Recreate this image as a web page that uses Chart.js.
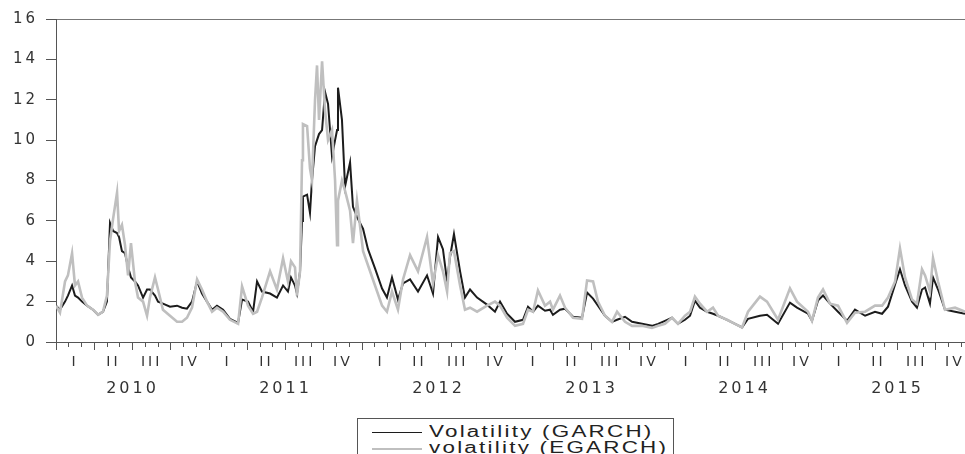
<!DOCTYPE html>
<html>
<head>
<meta charset="utf-8">
<script src="https://cdn.jsdelivr.net/npm/chart.js@4.4.1/dist/chart.umd.min.js"></script>
<style>
  html, body { margin: 0; padding: 0; background: #fff; overflow: hidden; }
  #wrap { position: relative; width: 965px; height: 454px; }
  #legend {
    position: absolute; left: 357px; top: 418px; width: 315px; height: 46px;
    border: 1px solid #555; background: #fff;
    font-family: "Liberation Sans", Arial, sans-serif; font-size: 16px; color: #222;
  }
  .row { position: absolute; left: 0; height: 17px; width: 100%; }
  .row .swatch { position: absolute; left: 14px; top: 8px; width: 50px; height: 0; }
  .row .txt {
    position: absolute; left: 71px; top: -1px; white-space: nowrap; line-height: 17px;
    letter-spacing: 1.6px; transform: scaleX(1.4); transform-origin: left center;
  }
</style>
</head>
<body>
<div id="wrap">
  <canvas id="volChart"></canvas>
  <div id="legend">
    <div class="row" style="top:5px"><div class="swatch" style="border-top:1.8px solid #1c1c1c"></div><span class="txt">Volatility (GARCH)</span></div>
    <div class="row" style="top:21px"><div class="swatch" style="border-top:2px solid #bfbfbf"></div><span class="txt">volatility (EGARCH)</span></div>
  </div>
</div>
<script>
// dates as decimal years
const dates = [
  2010.000, 2010.026, 2010.059, 2010.078, 2010.105, 2010.124, 2010.144, 2010.170, 2010.203, 2010.242,
  2010.275, 2010.307, 2010.333, 2010.353, 2010.373, 2010.399, 2010.412, 2010.431, 2010.451, 2010.471,
  2010.490, 2010.516, 2010.536, 2010.569, 2010.595, 2010.614, 2010.647, 2010.667, 2010.699, 2010.745,
  2010.791, 2010.824, 2010.856, 2010.889, 2010.922, 2010.954, 2010.987, 2011.020, 2011.052, 2011.092,
  2011.137, 2011.190, 2011.216, 2011.255, 2011.288, 2011.314, 2011.346, 2011.399, 2011.444, 2011.484,
  2011.516, 2011.536, 2011.562, 2011.575, 2011.595, 2011.608, 2011.614, 2011.641, 2011.660, 2011.673,
  2011.693, 2011.706, 2011.719, 2011.739, 2011.758, 2011.778, 2011.804, 2011.824, 2011.837, 2011.843,
  2011.869, 2011.889, 2011.922, 2011.941, 2011.967, 2012.007, 2012.039, 2012.085, 2012.131, 2012.163,
  2012.196, 2012.235, 2012.268, 2012.314, 2012.366, 2012.425, 2012.464, 2012.497, 2012.529, 2012.556,
  2012.575, 2012.601, 2012.641, 2012.673, 2012.706, 2012.752, 2012.817, 2012.869, 2012.902, 2012.948,
  2013.000, 2013.052, 2013.085, 2013.118, 2013.150, 2013.196, 2013.229, 2013.248, 2013.294, 2013.327,
  2013.379, 2013.438, 2013.471, 2013.510, 2013.542, 2013.588, 2013.634, 2013.667, 2013.719, 2013.765,
  2013.830, 2013.895, 2013.935, 2013.980, 2014.026, 2014.065, 2014.111, 2014.144, 2014.176, 2014.209,
  2014.255, 2014.294, 2014.327, 2014.386, 2014.438, 2014.484, 2014.523, 2014.601, 2014.647, 2014.719,
  2014.797, 2014.843, 2014.915, 2014.941, 2014.980, 2015.013, 2015.059, 2015.111, 2015.170, 2015.222,
  2015.288, 2015.353, 2015.399, 2015.438, 2015.484, 2015.516, 2015.549, 2015.595, 2015.627, 2015.660,
  2015.680, 2015.712, 2015.732, 2015.765, 2015.810, 2015.876, 2015.941, 2015.990
];

const garch = [
  1.8, 1.6, 2.0, 2.3, 2.8, 2.3, 2.2, 2.0, 1.8, 1.6,
  1.35, 1.5, 2.0, 5.9, 5.5, 5.4, 5.2, 4.5, 4.4, 3.7,
  3.2, 3.0, 2.8, 2.2, 2.6, 2.6, 2.3, 2.0, 1.9, 1.75,
  1.8, 1.7, 1.65, 2.0, 3.0, 2.4, 2.0, 1.6, 1.8, 1.6,
  1.15, 0.95, 2.1, 2.0, 1.5, 3.0, 2.5, 2.4, 2.2, 2.8,
  2.5, 3.2, 2.8, 2.4, 3.5, 6.0, 7.2, 7.3, 6.4, 8.0,
  9.7, 10.0, 10.3, 10.5, 12.4, 11.8, 9.2, 10.0, 10.5, 12.6,
  11.0, 7.7, 8.9, 6.7, 6.2, 5.6, 4.6, 3.65, 2.65, 2.2,
  3.2, 2.1, 2.9, 3.1, 2.5, 3.3, 2.4, 5.2, 4.6, 3.0,
  4.2, 5.35, 3.5, 2.2, 2.6, 2.2, 1.85, 1.5, 2.0, 1.4,
  1.0, 1.1, 1.75, 1.5, 1.8, 1.55, 1.6, 1.35, 1.6, 1.65,
  1.25, 1.2, 2.45, 2.15, 1.8, 1.3, 1.0, 1.1, 1.25, 1.0,
  0.9, 0.8, 0.9, 1.05, 1.2, 0.9, 1.1, 1.3, 2.05, 1.7,
  1.5, 1.4, 1.3, 1.1, 0.9, 0.72, 1.15, 1.3, 1.35, 0.9,
  1.95, 1.7, 1.4, 1.05, 2.05, 2.3, 1.9, 1.5, 1.05, 1.6,
  1.3, 1.5, 1.4, 1.75, 2.85, 3.6, 2.8, 2.0, 1.7, 2.6,
  2.7, 1.9, 3.2, 2.6, 1.6, 1.5, 1.4, 1.4
];

const egarch = [
  1.8, 1.45, 3.0, 3.3, 4.4, 2.8, 3.0, 2.2, 1.8, 1.6,
  1.35, 1.5, 2.3, 5.0, 6.1, 7.4, 5.5, 5.8, 4.8, 3.3,
  4.9, 3.0, 2.2, 2.0, 1.3, 2.2, 3.2, 2.6, 1.6, 1.3,
  1.0, 1.0, 1.2, 1.7, 3.1, 2.6, 2.0, 1.5, 1.7, 1.5,
  1.1, 0.9, 2.75, 1.8, 1.4, 1.5, 2.2, 3.5, 2.6, 4.15,
  3.0, 4.0, 3.7, 2.3, 3.5, 9.0, 10.8, 10.7, 8.6, 8.0,
  12.0, 13.7, 11.0, 13.9, 11.5, 10.0, 10.5, 8.0, 4.8, 7.0,
  8.0, 7.5, 6.5, 4.9, 7.0, 4.5, 3.8, 2.8, 1.8, 1.5,
  2.5, 1.6, 3.1, 4.3, 3.5, 5.2, 2.9, 4.3, 3.5, 2.5,
  4.4, 4.5, 2.8, 1.6, 1.7, 1.5, 1.8, 2.0, 1.8, 1.2,
  0.8, 0.9, 1.6, 1.5, 2.55, 1.8, 2.0, 1.6, 2.3, 1.7,
  1.2, 1.15, 3.05, 3.0, 2.0, 1.3, 1.0, 1.5, 1.0, 0.8,
  0.8, 0.7, 0.8, 0.9, 1.2, 0.9, 1.3, 1.5, 2.25, 1.9,
  1.5, 1.7, 1.3, 1.1, 0.9, 0.72, 1.5, 2.25, 2.0, 1.1,
  2.66, 2.0, 1.5, 1.05, 2.2, 2.6, 1.9, 1.8, 0.95, 1.45,
  1.5, 1.8, 1.8, 2.2, 3.0, 4.64, 3.2, 2.1, 1.9, 3.6,
  3.3, 2.5, 4.15, 3.0, 1.6, 1.7, 1.5, 1.6
];

const quarterNames = ['I', 'II', 'III', 'IV'];
const years = [2010, 2011, 2012, 2013, 2014, 2015];
const yTicks = [0, 2, 4, 6, 8, 10, 12, 14, 16];

const xMin = 2010;
const xMax = 2015.941;

const monthTicks = [];
years.forEach(function(y) {
  for (let m = 0; m < 12; m++) monthTicks.push({ value: y + m / 12, major: m % 3 === 0 });
});
const quarterTicks = [];
years.forEach(function(y) {
  for (let q = 0; q < 4; q++) quarterTicks.push({ value: y + (q + 0.5) / 4 });
});
const yearTicks = years.map(function(y) { return { value: y + 0.5 }; });

// wide, spaced-out labels like the original
const spacing = {
  id: 'spacing',
  beforeUpdate: function(chart) { chart.ctx.letterSpacing = '3px'; },
  beforeDraw: function(chart) { chart.ctx.letterSpacing = '3px'; }
};

function noPad(scale) {
  scale.paddingLeft = 0;
  scale.paddingRight = 0;
  scale.paddingTop = 0;
  scale.paddingBottom = 0;
}

function toPoints(vals) {
  return dates.map(function(d, i) { return { x: d, y: vals[i] }; });
}

Chart.defaults.font.family = "'DejaVu Sans', sans-serif";

const ctx = document.getElementById('volChart').getContext('2d');
new Chart(ctx, {
  type: 'line',
  data: {
    datasets: [{
      label: 'Volatility (GARCH)',
      data: toPoints(garch),
      borderColor: '#1c1c1c',
      borderWidth: 2,
      pointRadius: 0,
      tension: 0,
      order: 1
    }, {
      label: 'volatility (EGARCH)',
      data: toPoints(egarch),
      borderColor: '#bfbfbf',
      borderWidth: 2.6,
      pointRadius: 0,
      tension: 0,
      order: 0
    }]
  },
  options: {
    responsive: true,
    maintainAspectRatio: false,
    animation: false,
    events: [],
    layout: { padding: { top: 19, left: 11, right: 0, bottom: 54 } },
    plugins: { legend: { display: false }, tooltip: { enabled: false } },
    scales: {
      x: {
        type: 'linear', position: 'bottom', weight: 0, min: xMin, max: xMax,
        border: { display: true, color: '#555', width: 1 },
        grid: {
          drawOnChartArea: false, drawTicks: true, tickLength: 8, tickColor: '#555',
          tickBorderDash: function(c) { return c.tick && c.tick.major ? [] : [4, 10]; }
        },
        ticks: { display: false },
        afterBuildTicks: function(s) { s.ticks = monthTicks.map(function(t) { return { value: t.value, major: t.major }; }); },
        afterFit: function(s) { s.height = 8; noPad(s); }
      },
      xq: {
        type: 'linear', position: 'bottom', weight: 1, min: xMin, max: xMax,
        border: { display: false },
        grid: { display: false, drawTicks: false },
        ticks: {
          autoSkip: false, maxRotation: 0, padding: 4, color: '#333',
          font: { size: 14 },
          callback: function(v, i) { return quarterNames[i % 4]; }
        },
        afterBuildTicks: function(s) { s.ticks = quarterTicks.map(function(t) { return { value: t.value }; }); },
        afterFit: function(s) { s.height = 20; noPad(s); }
      },
      xy: {
        type: 'linear', position: 'bottom', weight: 2, min: xMin, max: xMax,
        border: { display: false },
        grid: { display: false, drawTicks: false },
        ticks: {
          autoSkip: false, maxRotation: 0, padding: 9, color: '#333',
          font: { size: 16 },
          callback: function(v, i) { return String(years[i]); }
        },
        afterBuildTicks: function(s) { s.ticks = yearTicks.map(function(t) { return { value: t.value }; }); },
        afterFit: function(s) { s.height = 30; noPad(s); }
      },
      y: {
        position: 'left', min: 0, max: 16,
        border: { display: true, color: '#555', width: 1 },
        grid: {
          drawTicks: true, tickLength: 10, tickColor: '#555',
          color: function(c) { return c.tick && c.tick.value === 16 ? '#777' : 'rgba(0,0,0,0)'; }
        },
        ticks: { padding: 8, color: '#333', font: { size: 15 } },
        afterBuildTicks: function(s) { s.ticks = yTicks.map(function(v) { return { value: v }; }); },
        afterFit: function(s) { s.width = 45; noPad(s); }
      }
    }
  },
  plugins: [spacing]
});
</script>
</body>
</html>
